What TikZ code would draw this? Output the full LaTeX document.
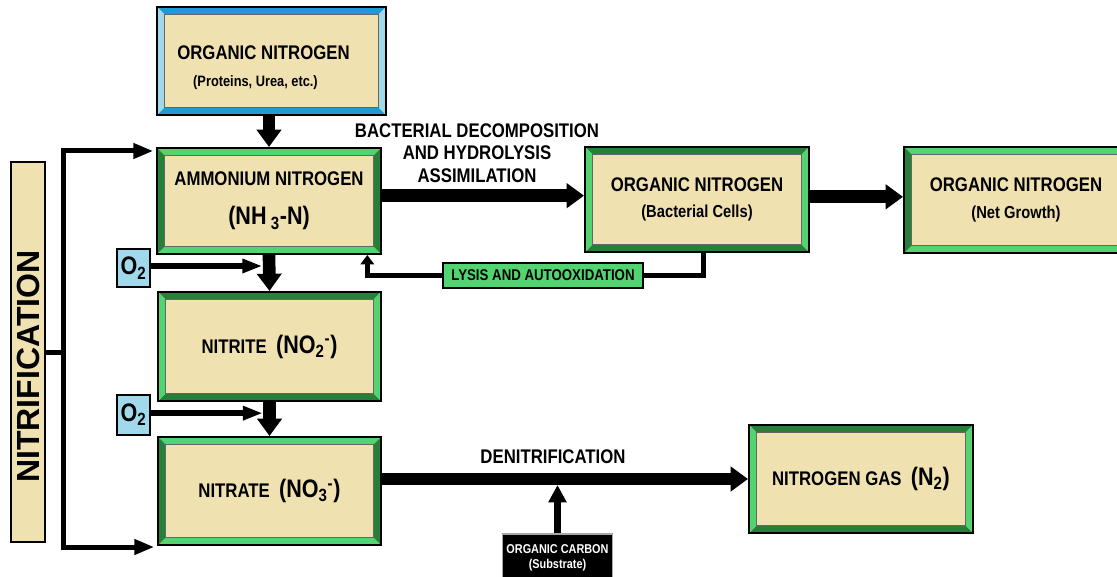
\documentclass[tikz,border=0pt]{standalone}
\usepackage{fontspec}
\setmainfont{Liberation Sans}[FakeStretch=0.85]
\newfontfamily\widefont{Liberation Sans}
\usetikzlibrary{arrows.meta}
\definecolor{beige}{RGB}{240,226,176}
\definecolor{dgreen}{RGB}{38,128,56}
\definecolor{lgreen}{RGB}{82,212,112}
\definecolor{dblue}{RGB}{32,152,218}
\definecolor{lblue}{RGB}{160,216,236}
\newcommand\ppbb{path picture bounding box}
\newcommand\Lab{\fontsize{14.8}{17}\selectfont\bfseries}
\newcommand\SubL{\fontsize{13}{15}\selectfont\bfseries}
\newcommand\Chem{\fontsize{19}{22}\selectfont\bfseries}
\tikzset{
  bevel/.style 2 args={draw=black, line width=1.5pt, fill=beige, inner sep=2pt,
    align=center, font=\Lab,
    path picture={
      \fill[#1] (\ppbb.north west) -- (\ppbb.north east) -- ([shift={(-5.5pt,-5.5pt)}]\ppbb.north east) -- ([shift={(5.5pt,-5.5pt)}]\ppbb.north west) -- cycle;
      \fill[#1] (\ppbb.south west) -- (\ppbb.south east) -- ([shift={(-5.5pt,5.5pt)}]\ppbb.south east) -- ([shift={(5.5pt,5.5pt)}]\ppbb.south west) -- cycle;
      \fill[#2] (\ppbb.north west) -- (\ppbb.south west) -- ([shift={(5.5pt,5.5pt)}]\ppbb.south west) -- ([shift={(5.5pt,-5.5pt)}]\ppbb.north west) -- cycle;
      \fill[#2] (\ppbb.north east) -- (\ppbb.south east) -- ([shift={(-5.5pt,5.5pt)}]\ppbb.south east) -- ([shift={(-5.5pt,-5.5pt)}]\ppbb.north east) -- cycle;
      \draw[line width=0.5pt, black!60] ([shift={(5.5pt,5.5pt)}]\ppbb.south west) rectangle ([shift={(-5.5pt,-5.5pt)}]\ppbb.north east);
    }},
  gboxA/.style={bevel={lgreen}{dgreen}},
  gboxB/.style={bevel={dgreen}{lgreen}},
  bigarrow/.style={line width=9.5pt, -{Triangle[length=13pt,width=18pt]}},
  o2arrow/.style={line width=4.5pt, -{Triangle[length=15pt,width=10pt]}},
  lysline/.style={line width=4pt},
  brk/.style={line width=3.75pt, line join=miter},
  o2box/.style={draw=black, line width=1.5pt, fill=lblue, inner sep=0pt,
    minimum width=24.75pt, font=\fontsize{19}{19}\selectfont\bfseries},
}
\begin{document}
\begin{tikzpicture}[x=0.75pt,y=-0.75pt]
\useasboundingbox (0,0) rectangle (1117,577);
\clip (0,0) rectangle (1117,577);

% boxes
\node[bevel={dblue}{lblue}, minimum width=171.75pt, minimum height=81pt] (top) at (271.5,61)
  {\rule{0pt}{20pt}ORGANIC NITROGEN\hspace*{12pt}\mbox{}\\[3pt]{\fontsize{11.3}{13}\selectfont\bfseries (Proteins, Urea, etc.)\hspace*{24pt}\mbox{}}};
\node[gboxA, minimum width=168pt, minimum height=79.5pt] (amm) at (269,201)
  {AMMONIUM NITROGEN\\[12pt]{\Chem (NH\,\textsubscript{3}-N)}};
\node[gboxB, minimum width=168pt, minimum height=78.75pt] (bact) at (697,199.5)
  {ORGANIC NITROGEN\\[3pt]{\SubL (Bacterial Cells)}};
\node[gboxA, minimum width=168pt, minimum height=79.5pt] (net) at (1016,200)
  {ORGANIC NITROGEN\\[3pt]{\SubL (Net Growth)}};
\node[gboxB, minimum width=167.25pt, minimum height=81.75pt] (nitrite) at (269.5,346.5)
  {NITRITE\ \ {\Chem (NO\textsubscript{2}\textsuperscript{-})}};
\node[gboxA, minimum width=167.25pt, minimum height=81pt] (nitrate) at (269.5,491)
  {NITRATE\ \ {\Chem (NO\textsubscript{3}\textsuperscript{-})}};
\node[gboxB, minimum width=168pt, minimum height=81pt] (gas) at (861,479)
  {NITROGEN GAS\ \ {\Chem (N\textsubscript{2})}};

% nitrification bar
\node[draw=black, line width=1.2pt, fill=beige, rotate=90, minimum width=285pt,
  minimum height=25.5pt, inner sep=0pt] (nitrif) at (28,352)
  {\widefont\bfseries\fontsize{24}{24}\selectfont NITRIFICATION\hspace*{22pt}\mbox{}};

% O2 boxes
\node[o2box, minimum height=28.5pt] (o2a) at (133.5,268) {O\textsubscript{2}};
\node[o2box, minimum height=30pt] (o2b) at (133.5,414.5) {O\textsubscript{2}};

% labels
\node[font=\Lab, align=center] (bdl) at (477,153)
  {BACTERIAL DECOMPOSITION\\AND HYDROLYSIS\\ASSIMILATION};
\node[font=\Lab] (den) at (553,457) {DENITRIFICATION};

% lysis path
\coordinate (lk) at ([xshift=-11pt]amm.south east);
\node[draw=black, line width=1.5pt, fill=lgreen, minimum width=150pt, minimum height=19pt,
  inner sep=0pt, font=\fontsize{11.7}{13}\selectfont\bfseries] (lys) at (543,275.5)
  {LYSIS AND AUTOOXIDATION};
\draw[lysline] ([xshift=5pt]bact.south) |- (lys.east);
\draw[lysline, -{Triangle[length=7pt,width=10pt]}] (lys.west) -| (lk);

% organic carbon
\node[draw=gray!70, line width=0.8pt, fill=black, text=white, align=center,
  minimum width=83pt, minimum height=36pt, inner sep=0pt,
  font=\fontsize{9.6}{11}\selectfont\bfseries] (carb) at (557.5,558)
  {ORGANIC CARBON\\(Substrate)};

% main arrows
\draw[bigarrow] (amm.north |- top.south) -- (amm.north);
\draw[bigarrow] (amm.south) -- (nitrite.north);
\draw[bigarrow] (nitrite.south) -- (nitrate.north);
\draw[bigarrow] ([yshift=4pt]amm.east) -- ([yshift=4pt]amm.east -| bact.west);
\draw[bigarrow] ([yshift=2pt]bact.east) -- ([yshift=2pt]bact.east -| net.west);
\draw[bigarrow] (gas.west -| nitrate.east) -- (gas.west);
\draw[line width=5pt, -{Triangle[length=13pt,width=13pt]}, shorten >=4.5pt]
  (carb.north) -- (carb.north |- gas.west);

% O2 arrows
\draw[o2arrow] ([yshift=1.5pt]o2a.east) -- ([yshift=1.5pt,xshift=-5pt]o2a.east -| amm.south);
\draw[o2arrow] ([yshift=1pt]o2b.east) -- ([yshift=1pt,xshift=-5pt]o2b.east -| nitrite.south);

% nitrification bracket
\coordinate (bt) at (63,151);
\coordinate (bb) at (63,547);
\coordinate (bm) at (63,352);
\draw[brk] (nitrif.south) -- (bm);
\draw[brk, {Triangle[length=15pt,width=11pt]}-{Triangle[length=15pt,width=11pt]},
  shorten <=2pt, shorten >=2pt] (bt -| amm.west) -- (bt) -- (bb) -- (bb -| nitrate.west);
\end{tikzpicture}
\end{document}
